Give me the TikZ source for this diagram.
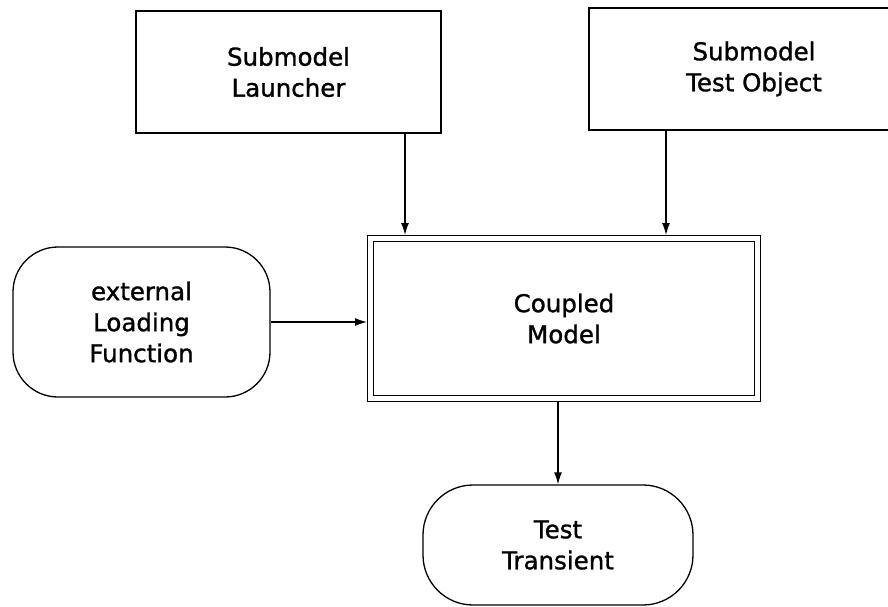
\documentclass[tikz,border=0pt]{standalone}
\usepackage{fontspec}
\setmainfont{DejaVu Sans}
\newfontfamily\lblfont[FakeBold=1.2]{DejaVu Sans}
\usetikzlibrary{arrows.meta}
\begin{document}
\begin{tikzpicture}[x=1pt,y=-1pt,
  every node/.style={font=\lblfont\fontsize{24.5}{31}\selectfont, align=center, inner sep=0pt},
  sq/.style={draw, line width=1.3pt, rectangle},
  rnd/.style={draw, line width=1.3pt, rectangle},
  dbl/.style={draw, line width=1.4pt, double, double distance=5pt, outer sep=3.5pt},
  arr/.style={line width=1.3pt, -{Latex[length=12pt,width=8pt]}}]
\useasboundingbox (0,0) rectangle (888,607);
\clip (0,0) rectangle (888,607);
\node[sq, minimum width=305pt, minimum height=122pt] (launch) at (288.5,72) {Submodel\\Launcher};
\node[sq, minimum width=330pt, minimum height=122pt] (testobj) at (754,69) {Submodel\\Test Object};
\node[dbl, minimum width=387pt, minimum height=160pt] (coupled) at (564,318.5) {Coupled\\Model};
\node[rnd, rounded corners=45pt, minimum width=257pt, minimum height=150pt] (ext) at (141.5,322) {external\\Loading\\Function};
\node[rnd, rounded corners=50pt, minimum width=270pt, minimum height=120pt] (tt) at (558,545) {Test\\Transient};
\coordinate (a1) at ([xshift=-159pt]coupled.north);
\coordinate (a2) at ([xshift=102pt]coupled.north);
\draw[arr] (launch.south -| a1) -- (a1);
\draw[arr] (testobj.south -| a2) -- (a2);
\draw[arr] (ext.east) -- (ext.east -| coupled.west);
\draw[arr] (tt.north |- coupled.south) -- (tt.north);
\end{tikzpicture}
\end{document}
